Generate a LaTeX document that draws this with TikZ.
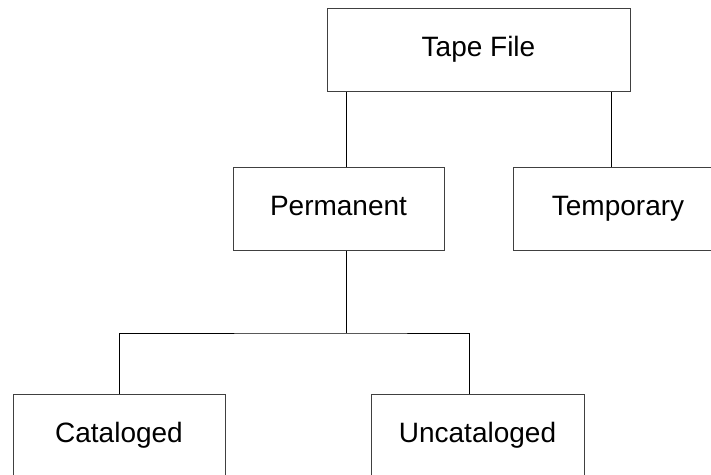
\documentclass[tikz,border=0pt]{standalone}
\usepackage{fontspec}
\setmainfont{Liberation Sans}
\begin{document}
\begin{tikzpicture}[x=1pt,y=-1pt,line width=1pt]

        \useasboundingbox (0,0) rectangle (711,474);
        \clip (0,0) rectangle (711,474);

        \begin{scope}[every node/.style={rectangle,draw=black!75,fill=white,
            minimum height=83pt,inner sep=0pt,text height=20pt,text depth=6pt,
            font=\fontsize{28}{34}\selectfont}]
          \node[minimum width=303pt] (tape)  at (478.5,49.5)  {Tape File};
          \node[minimum width=211pt] (perm)  at (338.5,208.5) {Permanent};
          \node[minimum width=210pt] (temp)  at (618,208.5)   {Temporary};
          \node[minimum width=212pt] (cat)   at (119,435.5)   {Cataloged};
          \node[minimum width=213pt] (uncat) at (477.5,435.5) {Uncataloged};
        \end{scope}

        \coordinate (split) at (346.5,333);

        \begin{scope}[every path/.style={draw,black}]
          \path ([xshift=7.5pt]perm.north) -- ([xshift=7.5pt]perm.north |- tape.south);
          \path ([xshift=-7pt]temp.north)  -- ([xshift=-7pt]temp.north |- tape.south);
          \path ([xshift=8pt]perm.south)   -- (split);
          \path (cat.north) |- (split) -| ([xshift=-8.5pt]uncat.north);
        \end{scope}

      \end{tikzpicture}
\end{document}
